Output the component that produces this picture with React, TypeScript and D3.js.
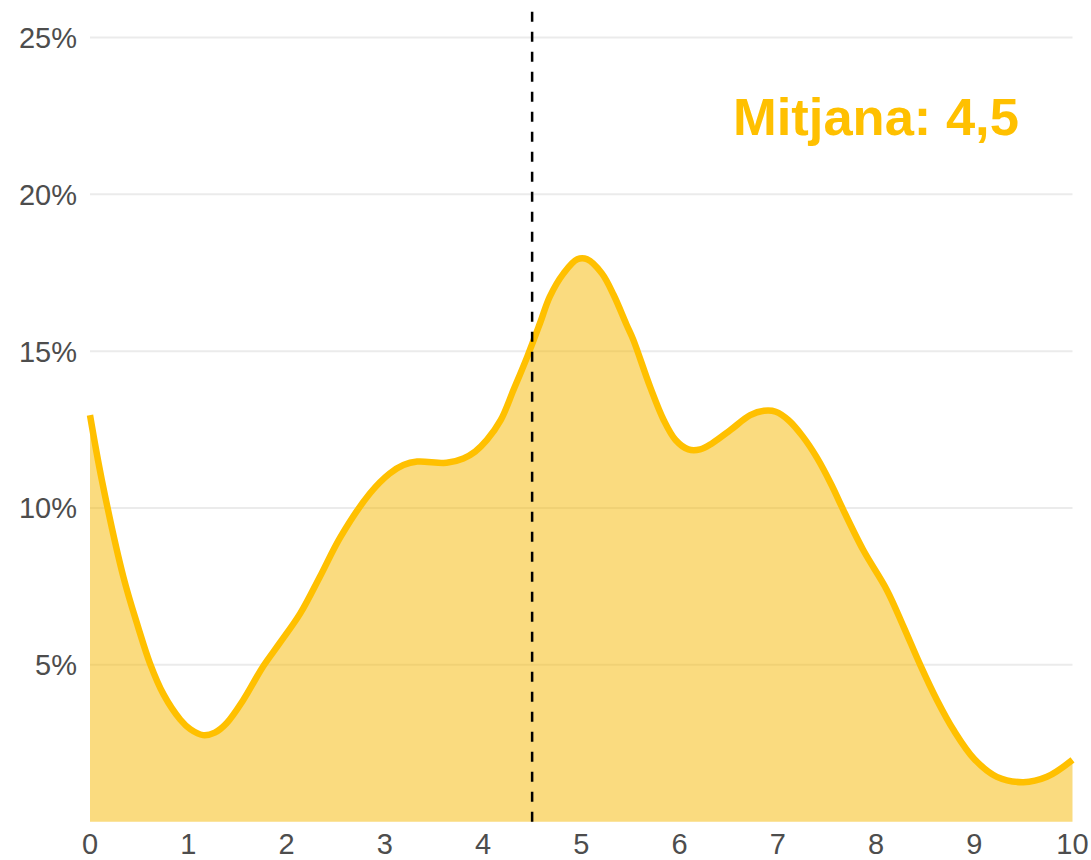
import React from 'react';
import * as d3 from 'd3';

// density curve (x = score, pct = share in %)
const densityX = [
  0, 0.12, 0.34, 0.49, 0.61, 0.75, 0.92, 1.02, 1.15, 1.27, 1.39, 1.56, 1.76, 1.93,
  2.14, 2.34, 2.55, 2.85, 3.05, 3.19, 3.33, 3.63, 3.8, 3.92, 4.04, 4.18, 4.31, 4.45,
  4.58, 4.68, 4.82, 4.96, 5.06, 5.21, 5.33, 5.46, 5.53, 5.7, 5.84, 5.96, 6.09, 6.21,
  6.33, 6.52, 6.72, 6.86, 6.98, 7.11, 7.25, 7.4, 7.55, 7.65, 7.87, 8.11, 8.28, 8.45,
  8.62, 8.79, 9.0, 9.23, 9.5, 9.74, 10,
];
const densityPct = [
  12.96, 10.9, 7.8, 6.2, 5.05, 4.05, 3.25, 2.95, 2.76, 2.84, 3.14, 3.88, 4.94, 5.69,
  6.64, 7.81, 9.08, 10.47, 11.1, 11.37, 11.48, 11.44, 11.58, 11.8, 12.17, 12.8, 13.76, 14.82,
  15.89, 16.74, 17.48, 17.93, 17.93, 17.48, 16.79, 15.85, 15.36, 13.87, 12.8, 12.17, 11.87, 11.87,
  12.06, 12.49, 12.96, 13.1, 13.07, 12.8, 12.3, 11.6, 10.72, 10.05, 8.66, 7.39, 6.22, 5.0,
  3.88, 2.92, 2.0, 1.43, 1.26, 1.43, 1.97,
];

const xTicks = [0, 1, 2, 3, 4, 5, 6, 7, 8, 9, 10];
const yTicks = [5, 10, 15, 20, 25];
const meanValue = 4.5;
const meanLabel = 'Mitjana: 4,5';

const width = 1091;
const height = 860;
const font = '"Liberation Sans", Arial, sans-serif';

export default function App() {
  const x = d3.scaleLinear().domain([0, 10]).range([90, 1072.5]);
  const y = d3.scaleLinear().domain([0, 25]).range([821.7, 37.5]);

  const points = densityX.map((d, i) => ({ x: d, v: densityPct[i] }));

  const area = d3
    .area<{ x: number; v: number }>()
    .x(d => x(d.x))
    .y0(y(0))
    .y1(d => y(d.v))
    .curve(d3.curveCatmullRom.alpha(0.5));

  const line = d3
    .line<{ x: number; v: number }>()
    .x(d => x(d.x))
    .y(d => y(d.v))
    .curve(d3.curveCatmullRom.alpha(0.5));

  return (
    <svg
      width={width}
      height={height}
      style={{ position: 'absolute', left: 0, top: 0, background: '#fff' }}
    >
      {/* grid */}
      {yTicks.map(t => (
        <line
          key={t}
          x1={x(0)}
          x2={x(10)}
          y1={y(t)}
          y2={y(t)}
          stroke="#EBEBEB"
          strokeWidth={2}
        />
      ))}

      {/* y labels */}
      {yTicks.map(t => (
        <text
          key={t}
          x={77}
          y={y(t)}
          dy="0.36em"
          textAnchor="end"
          fontFamily={font}
          fontSize={29}
          fill="#4D4D4D"
        >
          {t}%
        </text>
      ))}

      {/* x labels */}
      {xTicks.map(t => (
        <text
          key={t}
          x={x(t)}
          y={854}
          textAnchor="middle"
          fontFamily={font}
          fontSize={29}
          fill="#4D4D4D"
        >
          {t}
        </text>
      ))}

      <path d={area(points) ?? ''} fill="#F6B800" fillOpacity={0.5} />
      <path
        d={line(points) ?? ''}
        fill="none"
        stroke="#FFC000"
        strokeWidth={6.5}
        strokeLinejoin="round"
      />

      {/* mean */}
      <line
        x1={x(meanValue)}
        x2={x(meanValue)}
        y1={11.7}
        y2={y(0)}
        stroke="#000"
        strokeWidth={2.5}
        strokeDasharray="10,10"
      />

      <text
        x={733}
        y={135}
        fontFamily={font}
        fontWeight="bold"
        fontSize={52.5}
        fill="#FFC000"
      >
        {meanLabel}
      </text>
    </svg>
  );
}
